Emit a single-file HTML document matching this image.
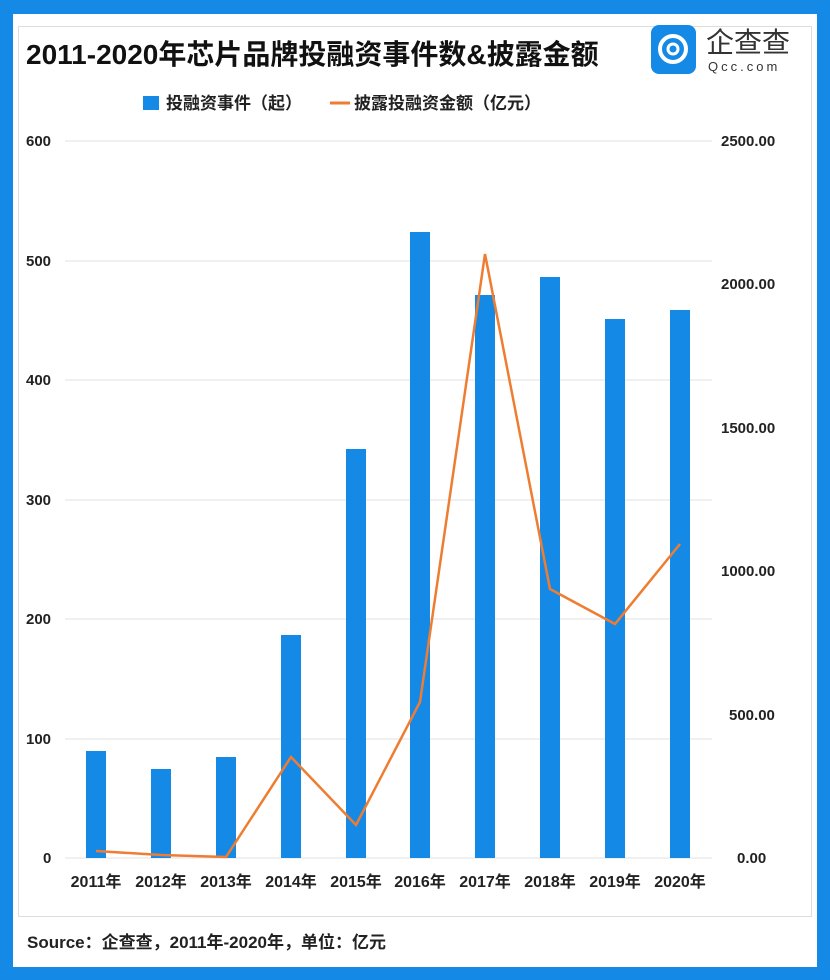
<!DOCTYPE html>
<html><head><meta charset="utf-8"><style>
body{margin:0;width:830px;height:980px;background:#1589e6;overflow:hidden;font-family:"Liberation Sans","Noto Sans CJK SC",sans-serif}
#w{position:absolute;left:13px;top:14px;width:804px;height:953px;background:#fff}
</style></head><body>
<div id="w"></div>
<svg width="830" height="980" style="position:absolute;left:0;top:0" font-family="Liberation Sans, Noto Sans CJK SC, sans-serif">
<rect x="18.5" y="26.5" width="793" height="890" fill="none" stroke="#ddd"/>
<text x="26" y="64" font-size="28" font-weight="bold" fill="#111">2011-2020年芯片品牌投融资事件数&amp;披露金额</text>
<rect x="651" y="25" width="45" height="49" rx="8" fill="#1589e6"/>
<circle cx="673" cy="49" r="13" fill="none" stroke="#fff" stroke-width="4"/>
<circle cx="673" cy="49" r="5" fill="none" stroke="#fff" stroke-width="3"/>
<text x="706" y="52" font-size="28" fill="#333">企查查</text>
<text x="708" y="71" font-size="13" fill="#333" letter-spacing="3">Qcc.com</text>
<rect x="143" y="96" width="16" height="14" fill="#1589e6"/>
<text x="166" y="109" font-size="17" font-weight="bold" fill="#222">投融资事件（起）</text>
<line x1="330" y1="103" x2="350" y2="103" stroke="#ee7d31" stroke-width="3"/>
<text x="354" y="109" font-size="17" font-weight="bold" fill="#222">披露投融资金额（亿元）</text>
<g stroke="#e0e0e0" stroke-width="1">
<line x1="65" y1="141" x2="712" y2="141"/><line x1="65" y1="261" x2="712" y2="261"/><line x1="65" y1="380" x2="712" y2="380"/><line x1="65" y1="500" x2="712" y2="500"/><line x1="65" y1="619" x2="712" y2="619"/><line x1="65" y1="739" x2="712" y2="739"/><line x1="65" y1="858" x2="712" y2="858"/>
</g>
<g font-size="15" font-weight="bold" fill="#222">
<text x="26" y="146">600</text><text x="26" y="266">500</text><text x="26" y="385">400</text><text x="26" y="505">300</text><text x="26" y="624">200</text><text x="26" y="744">100</text><text x="43" y="863">0</text>
<text x="721" y="146">2500.00</text><text x="721" y="289">2000.00</text><text x="721" y="433">1500.00</text><text x="721" y="576">1000.00</text><text x="729" y="720">500.00</text><text x="737" y="863">0.00</text>
</g>
<g fill="#1589e6">
<rect x="86" y="751" width="20" height="107"/><rect x="151" y="769" width="20" height="89"/><rect x="216" y="757" width="20" height="101"/><rect x="281" y="635" width="20" height="223"/><rect x="346" y="449" width="20" height="409"/><rect x="410" y="232" width="20" height="626"/><rect x="475" y="295" width="20" height="563"/><rect x="540" y="277" width="20" height="581"/><rect x="605" y="319" width="20" height="539"/><rect x="670" y="310" width="20" height="548"/>
</g>
<polyline points="96,851 161,855 226,857 291,757 356,825 420,702 485,254 550,589 615,624 680,544" fill="none" stroke="#ee7d31" stroke-width="2.5"/>
<g font-size="16" font-weight="bold" fill="#222" text-anchor="middle">
<text x="96" y="887">2011年</text><text x="161" y="887">2012年</text><text x="226" y="887">2013年</text><text x="291" y="887">2014年</text><text x="356" y="887">2015年</text><text x="420" y="887">2016年</text><text x="485" y="887">2017年</text><text x="550" y="887">2018年</text><text x="615" y="887">2019年</text><text x="680" y="887">2020年</text>
</g>
<text x="27" y="948" font-size="17" font-weight="bold" fill="#222">Source：企查查，2011年-2020年，单位：亿元</text>
</svg>
</body></html>
